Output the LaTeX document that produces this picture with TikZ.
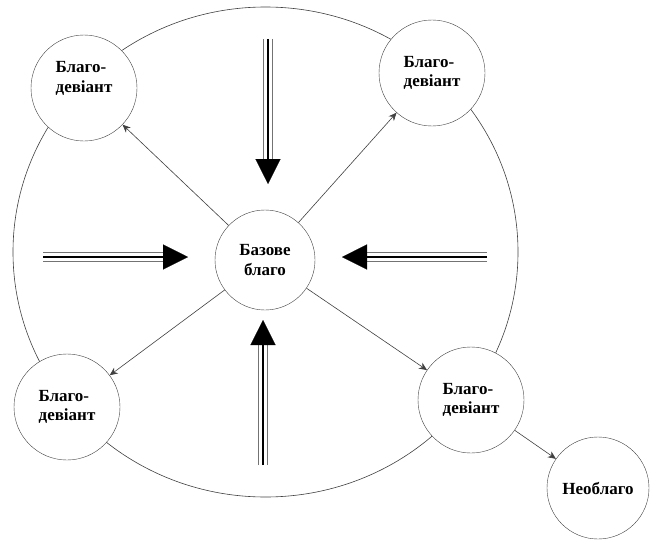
\documentclass[tikz,border=0pt]{standalone}
\usepackage{fontspec}
\setmainfont{Liberation Serif}
\usetikzlibrary{arrows.meta,calc}

\begin{document}
\begin{tikzpicture}[x=1pt,y=-1pt,
  good/.style={circle,draw=black!75,fill=white,minimum size=#1,inner sep=0pt,
    align=left,font=\bfseries\fontsize{17}{19.5}\selectfont},
  good/.default=106pt,
  flow/.style={draw=black!75,line width=0.6pt,-{Stealth[length=8pt,width=7pt]}},
  shaft/.style={draw=black!55,line width=9.6pt,
    postaction={draw=white,line width=7.6pt},
    postaction={draw=black,line width=1.6pt}},
  head/.style={-{Triangle[length=25pt,width=25pt]},line width=0.1pt}]
\useasboundingbox (0,0) rectangle (650,543);
% outer ring
\draw[black!75,line width=0.6pt] (265.5,252) ellipse [x radius=252.5,y radius=245];
\node (base) at (265,260) [good=100pt,align=center] {Базове\\благо};
\node (tl) at (84,88) [good,text depth=22pt] {Благо-\\девіант};
\node (tr) at (432,73) [good] {Благо-\\девіант};
\node (bl) at (67,407) [good] {Благо-\\девіант};
\node (br) at (471,400) [good] {Благо-\\девіант};
\node (bad) at (598,488) [good=102pt] {Необлаго};
% big arrows
\coordinate (ntail) at (268,39);
\coordinate (nhead) at (268,184);
\coordinate (wtail) at (43,257);
\coordinate (whead) at (188,257);
\coordinate (etail) at (487,257);
\coordinate (ehead) at (342,257);
\coordinate (stail) at (263,465);
\coordinate (shead) at (263,320);
\foreach \from/\to in {ntail/nhead,wtail/whead,etail/ehead,stail/shead} {
  \draw[shaft] (\from) -- ($(\to)!24pt!(\from)$);
  \draw[head] ($(\to)!25pt!(\from)$) -- (\to);
}
% thin arrows
\draw[flow] (base) -- (tl);
\draw[flow] (base) -- (tr);
\draw[flow] (base) -- (bl);
\draw[flow] (base) -- (br);
\draw[flow] (br) -- (bad);
\end{tikzpicture}
\end{document}
